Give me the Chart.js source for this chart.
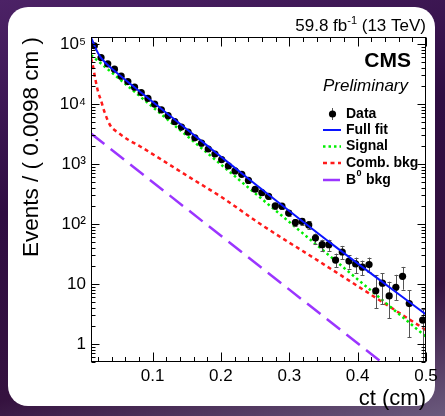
<!DOCTYPE html>
<html>
<head>
<meta charset="utf-8">
<script src="https://cdn.jsdelivr.net/npm/chart.js@4.4.0/dist/chart.umd.min.js"></script>
<style>
  html, body { margin: 0; padding: 0; }
  body {
    width: 445px; height: 416px; overflow: hidden; position: relative;
    background: linear-gradient(165deg, #4c2266 0%, #2f0d42 40%, #35123f 75%, #6b5a7d 100%);
  }
  #panel {
    position: absolute; left: 8px; top: 7px; width: 427px; height: 399px;
    background: #fff; border-radius: 20px;
  }
  #chart { position: absolute; left: 0; top: 0; }
</style>
</head>
<body>
<div id="panel"></div>
<canvas id="chart" width="445" height="416"></canvas>
<script>
// ct distribution, 50 bins of 0.0098 cm between 0.01 and 0.5 cm
const binCenters = [
  0.0149, 0.0247, 0.0345, 0.0443, 0.0541, 0.0639, 0.0737, 0.0835, 0.0933, 0.1031,
  0.1129, 0.1227, 0.1325, 0.1423, 0.1521, 0.1619, 0.1717, 0.1815, 0.1913, 0.2011,
  0.2109, 0.2207, 0.2305, 0.2403, 0.2501, 0.2599, 0.2697, 0.2795, 0.2893, 0.2991,
  0.3089, 0.3187, 0.3285, 0.3383, 0.3481, 0.3579, 0.3677, 0.3775, 0.3873, 0.3971,
  0.4069, 0.4167, 0.4265, 0.4363, 0.4461, 0.4559, 0.4657, 0.4755, 0.4853, 0.4951
];
const eventCounts = [
  93000, 59000, 46400, 37800, 28900, 23500, 19000, 15400, 12300, 9900,
  7940, 6350, 5050, 4100, 3370, 2720, 2210, 1770, 1460, 1180,
  926, 764, 670, 530, 378, 331, 288, 200, 197, 152,
  105, 110, 96, 58, 45, 45, 25, 34, 24, 21.5,
  19, 21, 7.7, 10.3, 6.3, 8.8, 13.4, 4.7, null, 2.5
];
const errUp = [
  427, 340, 300, 270, 240, 215, 193, 174, 155, 139,
  125, 112, 100, 90, 81, 73, 66, 59, 54, 48,
  43, 39, 36, 32, 27, 25, 24, 20, 20, 17,
  14, 15, 14, 11, 9.5, 9.5, 7, 9, 6, 6,
  5.5, 6.5, 6.4, 4.7, 4.6, 5.4, 5.8, 3.1, null, 1.3
];
const errDown = [
  427, 340, 300, 270, 240, 215, 193, 174, 155, 139,
  125, 112, 100, 90, 81, 73, 66, 59, 54, 48,
  43, 39, 36, 32, 27, 25, 24, 20, 20, 17,
  14, 15, 14, 11, 9.5, 9.5, 6, 8, 6, 6.5,
  5, 5, 3.8, 5.7, 3.6, 3.4, 5.4, 3.4, null, 2.5
];

// fit components
const fitX = [0.0100, 0.0132, 0.0182, 0.0231, 0.0304, 0.0378, 0.0476, 0.0623, 0.0965, 0.1455, 0.1946, 0.2435, 0.3660, 0.5000];
const fitY = [128000, 105500, 77700, 61900, 49400, 41000, 33100, 24100, 11700, 4150, 1480, 530, 43, 3.1];
const signalX = [0.01, 0.25, 0.5];
const signalY = [65000, 324, 1.32];
const combX = [0.0100, 0.0130, 0.0160, 0.0200, 0.0250, 0.0300, 0.0380, 0.0500, 0.0650, 0.0820, 0.1060, 0.1550, 0.2040, 0.2530, 0.3510, 0.5000];
const combY = [58000, 42000, 27000, 16500, 11000, 7200, 4400, 3300, 2500, 1950, 1320, 590, 265, 108, 21, 1.7];
const bzeroX = [0.01, 0.5];
const bzeroY = [3200, 0.13];

const xTicks = [0.1, 0.2, 0.3, 0.4, 0.5];
const yTicks = [1, 10, 100, 1000, 10000, 100000];
const yTickLabels = ['1', '10', '10²', '10³', '10⁴', '10⁵'];

const FONT = '"Liberation Sans", Arial, Helvetica, sans-serif';

function toPoints(xs, ys) {
    return xs.map((x, i) => ({ x: x, y: ys[i] }));
}

// ROOT style frame with inward ticks on all four sides
const frameTicks = {
    id: 'frameTicks',
    afterDatasetsDraw(chart) {
        const { ctx, chartArea: a, scales: { x, y } } = chart;
        const L = Math.round(a.left) + 0.5, R = Math.round(a.right) - 0.5;
        const T = Math.round(a.top) + 0.5, B = Math.round(a.bottom) - 0.5;
        ctx.save();
        ctx.strokeStyle = '#000';
        ctx.lineWidth = 1;
        ctx.beginPath();
        for (let i = 1; i <= 25; i++) {
            const v = i * 0.02;
            if (v < x.min - 1e-9 || v > x.max + 1e-9) continue;
            const px = Math.round(x.getPixelForValue(v)) + 0.5;
            const len = i % 5 === 0 ? 9 : 4.5;
            ctx.moveTo(px, B); ctx.lineTo(px, B - len);
            ctx.moveTo(px, T); ctx.lineTo(px, T + len);
        }
        for (let d = -1; d <= 5; d++) {
            for (let m = 1; m <= 9; m++) {
                const v = m * Math.pow(10, d);
                if (v < y.min || v > y.max) continue;
                const py = Math.round(y.getPixelForValue(v)) + 0.5;
                const len = m === 1 ? 8 : 4;
                ctx.moveTo(L, py); ctx.lineTo(L + len, py);
                ctx.moveTo(R, py); ctx.lineTo(R - len, py);
            }
        }
        ctx.stroke();
        ctx.strokeRect(L, T, R - L, B - T);
        ctx.restore();
    }
};

// vertical error bars under the data markers
const errorBars = {
    id: 'errorBars',
    beforeDatasetDraw(chart, args) {
        if (chart.data.datasets[args.index].label !== 'Data') return;
        const { ctx, scales: { x, y }, chartArea: a } = chart;
        ctx.save();
        ctx.beginPath();
        ctx.rect(a.left, a.top, a.right - a.left, a.bottom - a.top);
        ctx.clip();
        ctx.strokeStyle = '#555';
        ctx.lineWidth = 1;
        ctx.beginPath();
        binCenters.forEach((c, i) => {
            if (eventCounts[i] == null) return;
            const px = Math.round(x.getPixelForValue(c)) + 0.5;
            const hi = y.getPixelForValue(eventCounts[i] + errUp[i]);
            const lo = y.getPixelForValue(Math.max(eventCounts[i] - errDown[i], 0.01));
            ctx.moveTo(px, hi); ctx.lineTo(px, lo);
            ctx.moveTo(px - 2, Math.round(hi) + 0.5); ctx.lineTo(px + 2, Math.round(hi) + 0.5);
            ctx.moveTo(px - 2, Math.round(lo) + 0.5); ctx.lineTo(px + 2, Math.round(lo) + 0.5);
        });
        ctx.stroke();
        ctx.restore();
    }
};

// experiment label, luminosity and legend
const labels = {
    id: 'labels',
    afterDraw(chart) {
        const ctx = chart.ctx;
        ctx.save();
        ctx.fillStyle = '#000';
        ctx.textBaseline = 'alphabetic';

        // 59.8 fb^-1 (13 TeV)
        const f1 = '17px ' + FONT, fs = '11px ' + FONT;
        ctx.font = f1;
        const wa = ctx.measureText('59.8 fb').width;
        const wc = ctx.measureText(' (13 TeV)').width;
        ctx.font = fs;
        const wb = ctx.measureText('-1').width;
        let x0 = chart.chartArea.right - (wa + wb + wc);
        ctx.textAlign = 'left';
        ctx.font = f1;
        ctx.fillText('59.8 fb', x0, 31);
        ctx.font = fs;
        ctx.fillText('-1', x0 + wa, 24);
        ctx.font = f1;
        ctx.fillText(' (13 TeV)', x0 + wa + wb, 31);

        ctx.textAlign = 'right';
        ctx.font = 'bold 21px ' + FONT;
        ctx.fillText('CMS', 411, 67);
        ctx.font = 'italic 17px ' + FONT;
        ctx.fillText('Preliminary', 408, 91);

        // legend
        const rows = { 'Data': 114, 'Full fit': 130, 'Signal': 146.5, 'Comb. bkg': 163, 'B0 bkg': 180 };
        const lx0 = 323, lx1 = 341, tx = 346;
        ctx.textAlign = 'left';
        ctx.textBaseline = 'middle';
        chart.data.datasets.forEach(ds => {
            const ry = rows[ds.label];
            if (ds.label === 'Data') {
                const cx = (lx0 + lx1) / 2 + 0.5;
                ctx.strokeStyle = '#555';
                ctx.lineWidth = 1;
                ctx.beginPath();
                ctx.moveTo(cx, ry - 6); ctx.lineTo(cx, ry + 6);
                ctx.stroke();
                ctx.fillStyle = '#000';
                ctx.beginPath();
                ctx.arc(cx, ry, 3.6, 0, Math.PI * 2);
                ctx.fill();
            } else {
                ctx.strokeStyle = ds.borderColor;
                ctx.lineWidth = ds.borderWidth;
                ctx.setLineDash(ds.borderDash || []);
                ctx.beginPath();
                ctx.moveTo(lx0, ry); ctx.lineTo(lx1, ry);
                ctx.stroke();
                ctx.setLineDash([]);
            }
            ctx.fillStyle = '#000';
            ctx.font = 'bold 14px ' + FONT;
            if (ds.label === 'B0 bkg') {
                ctx.fillText('B', tx, ry);
                const wB = ctx.measureText('B').width;
                ctx.font = 'bold 9px ' + FONT;
                ctx.fillText('0', tx + wB + 0.5, ry - 6);
                const w0 = ctx.measureText('0').width;
                ctx.font = 'bold 14px ' + FONT;
                ctx.fillText(' bkg', tx + wB + w0 + 1, ry);
            } else {
                ctx.fillText(ds.label, tx, ry);
            }
        });
        ctx.restore();
    }
};

new Chart(document.getElementById('chart'), {
    type: 'line',
    data: {
        datasets: [
            {
                label: 'Full fit',
                data: toPoints(fitX, fitY),
                borderColor: '#0a14ff',
                borderWidth: 2,
                pointRadius: 0,
                cubicInterpolationMode: 'monotone',
                order: 0
            },
            {
                label: 'Data',
                data: toPoints(binCenters, eventCounts),
                showLine: false,
                pointRadius: 3.6,
                pointBackgroundColor: '#000',
                pointBorderWidth: 0,
                order: 1
            },
            {
                label: 'Signal',
                data: toPoints(signalX, signalY),
                borderColor: '#00ee00',
                borderWidth: 2.5,
                borderDash: [2.5, 3],
                pointRadius: 0,
                order: 2
            },
            {
                label: 'Comb. bkg',
                data: toPoints(combX, combY),
                borderColor: '#ff1a1a',
                borderWidth: 2.5,
                borderDash: [4, 3.5],
                pointRadius: 0,
                cubicInterpolationMode: 'monotone',
                order: 3
            },
            {
                label: 'B0 bkg',
                data: toPoints(bzeroX, bzeroY),
                borderColor: '#9b35ff',
                borderWidth: 2.5,
                borderDash: [17, 8],
                pointRadius: 0,
                order: 4
            }
        ]
    },
    options: {
        responsive: false,
        animation: false,
        devicePixelRatio: 1,
        layout: { padding: { left: 0, right: 19, top: 37, bottom: 0 } },
        plugins: {
            legend: { display: false },
            tooltip: { enabled: false }
        },
        scales: {
            x: {
                type: 'linear',
                min: 0.01,
                max: 0.5,
                grid: { display: false, drawTicks: false, tickLength: 0 },
                border: { display: false },
                afterBuildTicks: s => { s.ticks = xTicks.map(v => ({ value: v })); },
                afterFit: s => { s.height = 54; },
                ticks: {
                    color: '#000',
                    font: { family: FONT, size: 17 },
                    padding: 4,
                    maxRotation: 0,
                    autoSkip: false,
                    callback: v => v.toFixed(1)
                },
                title: {
                    display: true,
                    text: 'ct (cm)',
                    align: 'end',
                    color: '#000',
                    font: { family: FONT, size: 22 },
                    padding: { top: 0, bottom: 4 }
                }
            },
            y: {
                type: 'logarithmic',
                min: 0.5,
                max: 1.3e5,
                grid: { display: false, drawTicks: false, tickLength: 0 },
                border: { display: false },
                afterBuildTicks: s => { s.ticks = yTicks.map(v => ({ value: v })); },
                afterFit: s => { s.width = 91; },
                ticks: {
                    color: '#000',
                    font: { family: FONT, size: 17 },
                    padding: 5,
                    autoSkip: false,
                    callback: v => yTickLabels[yTicks.indexOf(v)]
                },
                title: {
                    display: true,
                    text: 'Events / ( 0.0098 cm )',
                    align: 'end',
                    color: '#000',
                    font: { family: FONT, size: 22.5 },
                    padding: { top: 18, bottom: 0 }
                }
            }
        }
    },
    plugins: [frameTicks, errorBars, labels]
});
</script>
</body>
</html>
